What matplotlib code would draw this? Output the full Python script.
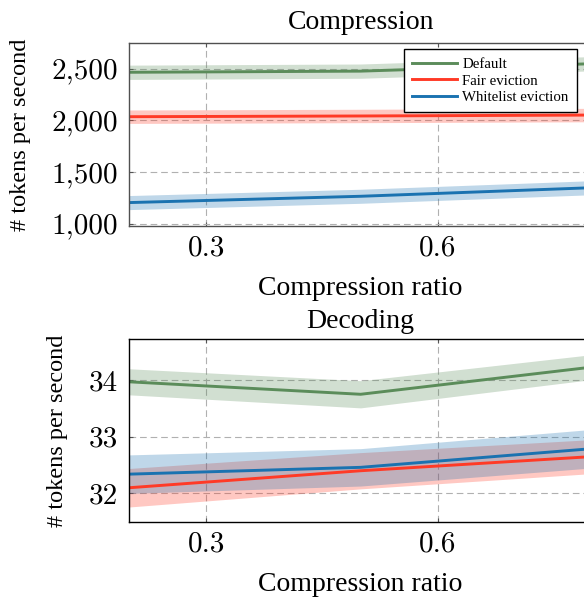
import numpy as np
import matplotlib
matplotlib.use("Agg")
import matplotlib.pyplot as plt

plt.rcParams['font.family'] = ['Liberation Serif', 'DejaVu Serif']
plt.rcParams['mathtext.fontset'] = 'cm'

# data
ratio = [0.2, 0.5, 0.8]

comp_default = [2465, 2476, 2548]
comp_default_err = [69, 69, 69]
comp_fair = [2035, 2042, 2051]
comp_fair_err = [65, 65, 65]
comp_white = [1204, 1265, 1348]
comp_white_err = [68, 68, 68]

dec_default = [33.97, 33.75, 34.23]
dec_default_err = [0.23, 0.24, 0.22]
dec_fair = [32.10, 32.40, 32.65]
dec_fair_err = [0.34, 0.32, 0.30]
dec_white = [32.34, 32.46, 32.79]
dec_white_err = [0.34, 0.33, 0.34]

labels = ["Default", "Fair eviction", "Whitelist eviction"]
colors = ["#5b8c5a", "#ff3a26", "#1a72b0"]

xticks = [0.3, 0.6]
xticklabels = ["0.3", "0.6"]
comp_yticks = [1000, 1500, 2000, 2500]
comp_yticklabels = ["1,000", "1,500", "2,000", "2,500"]
dec_yticks = [32, 33, 34]
dec_yticklabels = ["32", "33", "34"]

fig = plt.figure(figsize=(5.84, 5.97), dpi=100)
ax1 = fig.add_axes([0.2214, 0.6219, 0.7923, 0.3055])
ax2 = fig.add_axes([0.2214, 0.1261, 0.7923, 0.3055])


def draw(ax, series, title, tpad, yticks, yticklabels, ylim, spine,
         legend=False):
    for (y, e), lab, c in zip(series, labels, colors):
        y = np.array(y)
        e = np.array(e)
        ax.fill_between(ratio, y - e, y + e, color=c, alpha=0.28, lw=0)
        ax.plot(ratio, y, color=c, lw=2.1, label=lab)
    ax.set_xlim(0.2, 0.8)
    ax.set_ylim(*ylim)
    ax.set_xticks(xticks)
    ax.set_xticklabels(xticklabels, fontfamily='cmr10', fontsize=21)
    ax.set_yticks(yticks)
    ax.set_yticklabels(yticklabels, fontfamily='cmr10', fontsize=21)
    ax.tick_params(direction='in', length=3, width=0.8, color='#555555',
                   top=True, right=True)
    ax.tick_params(axis='x', pad=7)
    ax.tick_params(axis='y', pad=8)
    ax.grid(True, linestyle=(0, (6, 3.5)), color="#b0b0b0", lw=0.8)
    ax.set_axisbelow(True)
    for s in ax.spines.values():
        s.set_color(spine)
        s.set_linewidth(1.0)
    ax.set_title(title, fontsize=20, pad=tpad)
    ax.set_xlabel("Compression ratio", fontsize=20, labelpad=10)
    ax.set_ylabel("# tokens per second", fontsize=17.5, labelpad=15)
    if legend:
        leg = ax.legend(loc="upper left", bbox_to_anchor=(0.5943, 0.967),
                        borderaxespad=0, prop={'size': 10.7},
                        fancybox=False, edgecolor="black", framealpha=1,
                        handlelength=3.0, labelspacing=0.22,
                        borderpad=0.55, handletextpad=0.35)
        leg.get_frame().set_linewidth(1.0)


draw(ax1, [(comp_default, comp_default_err), (comp_fair, comp_fair_err),
           (comp_white, comp_white_err)],
     "Compression", 10, comp_yticks, comp_yticklabels, (980, 2745),
     '#505050', legend=True)
draw(ax2, [(dec_default, dec_default_err), (dec_fair, dec_fair_err),
           (dec_white, dec_white_err)],
     "Decoding", 8, dec_yticks, dec_yticklabels, (31.5, 34.72), 'black')

fig.savefig("out.png", dpi=100)
